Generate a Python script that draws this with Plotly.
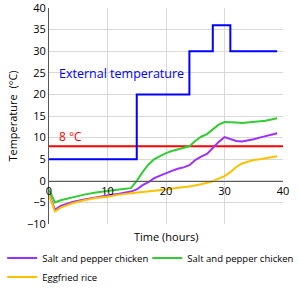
import plotly.graph_objects as go

# External temperature (step profile)
ext_x = [0, 15, 15, 24, 24, 28, 28, 31, 31, 39]
ext_y = [5, 5, 20, 20, 30, 30, 36, 36, 30, 30]

# Threshold
thr_x = [0, 40]
thr_y = [8, 8]

# Salt and pepper chicken (purple)
p_x = [0, 1, 2, 4, 6, 8, 10, 12, 14, 15, 16, 17, 18, 19, 20, 21, 22, 23, 24, 25, 26, 27, 28, 29, 30, 31, 32, 33, 34, 35, 36, 37, 38, 39]
p_y = [-3, -6.7, -5.8, -4.9, -4.3, -3.8, -3.4, -3.0, -2.5, -2.0, -1.0, -0.3, 0.6, 1.2, 1.8, 2.3, 2.8, 3.1, 3.6, 4.8, 5.6, 6.2, 7.6, 9.0, 10.1, 9.7, 9.2, 9.1, 9.3, 9.6, 10.0, 10.3, 10.7, 11.0]

# Salt and pepper chicken (green)
g_x = [0, 1, 2, 4, 6, 8, 10, 12, 14, 15, 16, 17, 18, 19, 20, 21, 22, 23, 24, 25, 26, 27, 28, 29, 30, 31, 32, 33, 34, 35, 36, 37, 38, 39]
g_y = [-2, -5, -4.5, -3.8, -3.2, -2.7, -2.3, -2.0, -1.7, 0, 2, 3.8, 5, 5.8, 6.4, 6.9, 7.3, 7.6, 8.0, 9.2, 10.2, 10.8, 12, 13, 13.6, 13.6, 13.5, 13.4, 13.5, 13.6, 13.8, 13.9, 14.2, 14.5]

# Eggfried rice (orange)
o_x = [0, 1, 2, 4, 6, 8, 10, 12, 14, 16, 18, 20, 22, 24, 26, 27, 28, 29, 30, 31, 32, 33, 34, 35, 36, 37, 38, 39]
o_y = [-3.2, -7.1, -6.2, -5.2, -4.5, -4.0, -3.7, -3.2, -2.9, -2.6, -2.4, -2.0, -1.6, -1.3, -0.8, -0.5, -0.1, 0.5, 1.1, 2.0, 3.2, 4.0, 4.4, 4.8, 5.0, 5.2, 5.4, 5.7]

FONT = "Open Sans"

fig = go.Figure()
fig.add_trace(go.Scatter(x=thr_x, y=thr_y, mode="lines", line=dict(color="#ff0000", width=2), showlegend=False, hoverinfo="skip"))
fig.add_trace(go.Scatter(x=ext_x, y=ext_y, mode="lines", line=dict(color="#0000ff", width=2), showlegend=False))
fig.add_trace(go.Scatter(x=p_x, y=p_y, mode="lines", name="Salt and pepper chicken", line=dict(color="#9b30ff", width=2), legend="legend"))
fig.add_trace(go.Scatter(x=g_x, y=g_y, mode="lines", name="Salt and pepper chicken", line=dict(color="#33cc33", width=2), legend="legend2"))
fig.add_trace(go.Scatter(x=o_x, y=o_y, mode="lines", name="Eggfried rice", line=dict(color="#ffc000", width=2), legend="legend"))

fig.add_annotation(x=1.3, y=24.8, xref="x", yref="y", text="External temperature", showarrow=False,
                   xanchor="left", yanchor="middle", font=dict(family=FONT, size=12.5, color="#0000ff"))
fig.add_annotation(x=1.4, y=10.2, xref="x", yref="y", text="8 °C", showarrow=False,
                   xanchor="left", yanchor="middle", font=dict(family=FONT, size=12, color="#ff0000"))
fig.add_annotation(x=0.5, y=-0.06, xref="paper", yref="paper", text="Time (hours)", showarrow=False,
                   xanchor="center", yanchor="middle", font=dict(family=FONT, size=11, color="#000000"))

legend_common = dict(orientation="v", yanchor="top", y=-0.09, xanchor="left",
                     font=dict(family=FONT, size=9.5), itemwidth=30, tracegroupgap=0,
                     bgcolor="rgba(0,0,0,0)")

fig.update_layout(
    width=299, height=289,
    margin=dict(l=49, r=16, t=8, b=65, autoexpand=False),
    paper_bgcolor="white", plot_bgcolor="white",
    font=dict(family=FONT, size=11, color="#000000"),
    legend=dict(x=-0.2, **legend_common),
    legend2=dict(x=0.42, **legend_common),
    xaxis=dict(range=[0, 40], dtick=10, tick0=0, showgrid=True, gridcolor="#d9d9d9", gridwidth=1,
               anchor="free", position=0.2, showline=True, linecolor="#595959", linewidth=1,
               zeroline=False, ticks="", tickfont=dict(family=FONT, size=11), ticklabeloverflow="allow"),
    yaxis=dict(range=[-10, 40], dtick=5, tick0=0, showgrid=True, gridcolor="#d9d9d9", gridwidth=1,
               showline=True, linecolor="#595959", linewidth=1, zeroline=False, ticks="",
               title=dict(text="Temperature  (°C)", font=dict(family=FONT, size=11), standoff=7),
               tickfont=dict(family=FONT, size=11), ticklabeloverflow="allow"),
)

fig.write_html("out.html")
